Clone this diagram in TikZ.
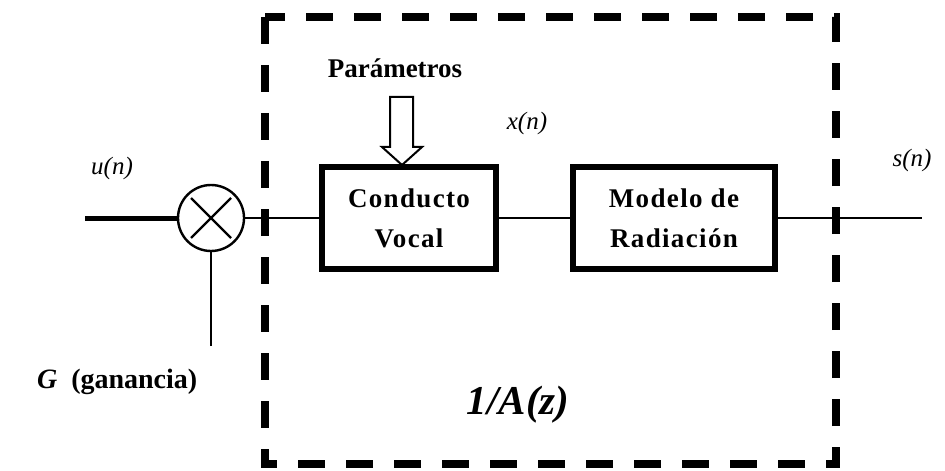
\documentclass[tikz,border=0pt]{standalone}
\usepackage{fontspec}
\setmainfont{Liberation Serif}
\usepackage{tikz}
\usetikzlibrary{positioning}

\begin{document}
\begin{tikzpicture}[x=0.5pt, y=-0.5pt, node distance=99pt, >=stealth]
  \tikzstyle{block}=[rectangle, draw, line width=3pt, align=center, minimum width=87pt, minimum height=50.5pt, font=\fontsize{13.5}{20}\selectfont\bfseries\addfontfeature{LetterSpace=5}]
  \tikzstyle{mult}=[circle, draw, line width=1.2pt, minimum size=33pt, inner sep=0pt]
  \tikzstyle{sig}=[font=\fontsize{12.5}{14}\selectfont\itshape]
  \tikzstyle{wire}=[line width=1.3pt]
  \tikzstyle{dashbox}=[line width=3.6pt, dash pattern=on 13.5pt off 10.5pt]
  \useasboundingbox (0,0) rectangle (945,470);
  \draw[dashbox] (265,17) rectangle (836,464);
  \node[mult] (mult) at (211,218) {};
  \node[block, right of=mult] (cv) {Conducto\\Vocal};
  \node[block, minimum width=101pt, right of=cv, node distance=132.5pt] (mr) {Modelo de\\Radiaci\'on};
  \coordinate (uin) at (85,218);
  \coordinate (sout) at (922,218);
  \coordinate (gin) at (211,346);
  \coordinate (ptip) at (402,165);
  % multiplicador
  \draw[line width=1.2pt] (mult.center) ++(-20,-20) -- ++(40,40);
  \draw[line width=1.2pt] (mult.center) ++(20,-20) -- ++(-40,40);
  \draw[line width=2.5pt] (uin) -- (mult);
  \draw[line width=1.2pt] (gin) -- (mult);
  \draw[wire] (mult) -- (cv);
  \draw[wire] (cv) -- (mr);
  \draw[wire] (mr) -- (sout);
  % flecha hueca de parametros
  \draw[line width=1pt] (ptip) -- ++(-20,-18) -- ++(8,0) -- ++(0,-50) -- ++(23,0) -- ++(0,50) -- ++(9,0) -- cycle;
  \node[font=\fontsize{13.5}{16}\selectfont\bfseries] (par) at (395,68) {Par\'ametros};
  \node[sig] (un) at (112,168) {u(n)};
  \node[sig] (xn) at (527,123) {x(n)};
  \node[sig] (sn) at (912,160) {s(n)};
  \node[anchor=west, font=\fontsize{14}{16}\selectfont\bfseries] (gan) at (30,382) {\textit{G}\ \ (ganancia)};
  \node[font=\fontsize{20.5}{24}\selectfont\bfseries\itshape] (az) at (518,405) {1/A(z)};
\end{tikzpicture}
\end{document}
